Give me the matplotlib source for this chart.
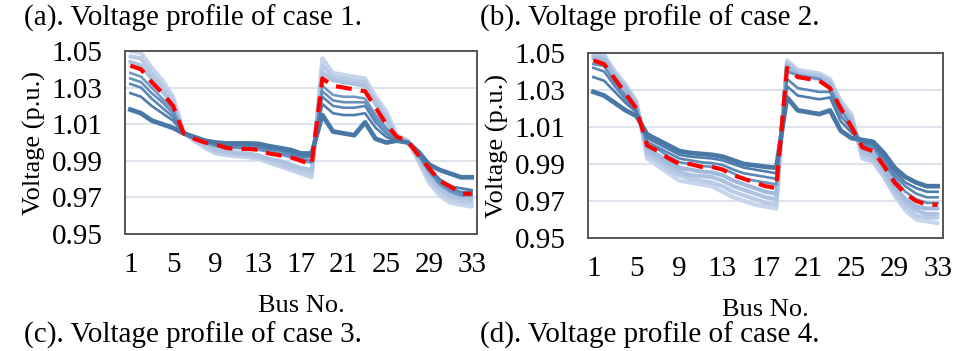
import matplotlib
matplotlib.use("Agg")
import matplotlib.pyplot as plt
import numpy as np

plt.rcParams['font.family'] = ['Liberation Serif', 'DejaVu Serif']

bus = list(range(1, 34))
xticks = [1, 5, 9, 13, 17, 21, 25, 29, 33]
yticks = [0.95, 0.97, 0.99, 1.01, 1.03, 1.05]

# case 1: darker -> lighter series, plus red dashed reference
a_d1 = [1.018, 1.016, 1.012, 1.010, 1.008, 1.005, 1.003, 1.001, 1.000, 0.9995, 0.9995, 0.9995, 0.9993, 0.998, 0.997, 0.996, 0.994, 0.994,
        1.015, 1.006, 1.005, 1.004, 1.011, 1.002, 1.000, 1.001, 1.000, 0.995, 0.988, 0.985, 0.983, 0.981, 0.981]
a_d2 = [1.027, 1.025, 1.020, 1.016, 1.012, 1.005, 1.003, 1.001, 0.9995, 0.999, 0.999, 0.999, 0.9985, 0.9975, 0.9965, 0.995, 0.993, 0.993,
        1.021, 1.016, 1.015, 1.015, 1.016, 1.008, 1.003, 1.001, 1.000, 0.994, 0.986, 0.980, 0.976, 0.975, 0.974]
a_d3 = [1.032, 1.030, 1.024, 1.019, 1.014, 1.005, 1.003, 1.001, 0.999, 0.998, 0.998, 0.998, 0.9975, 0.9965, 0.9955, 0.994, 0.992, 0.992,
        1.025, 1.020, 1.019, 1.019, 1.020, 1.011, 1.005, 1.001, 1.000, 0.994, 0.985, 0.979, 0.975, 0.973, 0.973]
a_d4 = [1.035, 1.033, 1.027, 1.022, 1.016, 1.005, 1.002, 1.000, 0.9985, 0.9975, 0.9975, 0.997, 0.9965, 0.9955, 0.994, 0.993, 0.991, 0.990,
        1.028, 1.023, 1.022, 1.022, 1.022, 1.013, 1.007, 1.002, 1.000, 0.994, 0.985, 0.978, 0.974, 0.972, 0.972]
a_d5 = [1.038, 1.036, 1.030, 1.024, 1.018, 1.005, 1.002, 1.000, 0.998, 0.997, 0.997, 0.9965, 0.996, 0.995, 0.9935, 0.992, 0.990, 0.989,
        1.031, 1.026, 1.025, 1.025, 1.024, 1.015, 1.008, 1.002, 1.000, 0.993, 0.984, 0.977, 0.973, 0.971, 0.971]
a_l1 = [1.044, 1.042, 1.035, 1.028, 1.021, 1.005, 1.002, 0.999, 0.996, 0.995, 0.9945, 0.994, 0.993, 0.991, 0.990, 0.988, 0.986, 0.985,
        1.038, 1.034, 1.033, 1.032, 1.031, 1.021, 1.012, 1.003, 1.001, 0.992, 0.982, 0.975, 0.971, 0.970, 0.969]
a_l2 = [1.047, 1.046, 1.038, 1.031, 1.023, 1.005, 1.001, 0.998, 0.995, 0.994, 0.9935, 0.993, 0.992, 0.990, 0.988, 0.986, 0.984, 0.983,
        1.042, 1.036, 1.035, 1.034, 1.033, 1.023, 1.014, 1.003, 1.001, 0.991, 0.980, 0.973, 0.969, 0.968, 0.967]
a_l3 = [1.050, 1.049, 1.041, 1.034, 1.025, 1.006, 1.001, 0.997, 0.994, 0.993, 0.9925, 0.992, 0.991, 0.989, 0.987, 0.985, 0.983, 0.981,
        1.046, 1.038, 1.037, 1.036, 1.035, 1.025, 1.017, 1.004, 1.001, 0.990, 0.978, 0.971, 0.967, 0.966, 0.965]
a_red = [1.042, 1.040, 1.033, 1.027, 1.020, 1.005, 1.002, 1.000, 0.999, 0.997, 0.9965, 0.9965, 0.996, 0.994, 0.993, 0.992, 0.990, 0.988,
         1.035, 1.031, 1.030, 1.029, 1.028, 1.019, 1.010, 1.003, 1.001, 0.993, 0.986, 0.979, 0.976, 0.972, 0.972]

# case 2
b_d1 = [1.029, 1.027, 1.023, 1.019, 1.016, 1.006, 1.003, 1.000, 0.997, 0.996, 0.9955, 0.995, 0.994, 0.992, 0.990, 0.9893, 0.9885, 0.988,
        1.026, 1.019, 1.018, 1.017, 1.019, 1.008, 1.004, 1.003, 1.002, 0.996, 0.988, 0.983, 0.980, 0.978, 0.978]
b_d2 = [1.037, 1.035, 1.029, 1.023, 1.018, 1.004, 1.001, 0.998, 0.995, 0.994, 0.9935, 0.993, 0.992, 0.990, 0.988, 0.987, 0.986, 0.985,
        1.032, 1.027, 1.026, 1.025, 1.026, 1.013, 1.007, 1.002, 1.001, 0.994, 0.986, 0.980, 0.977, 0.975, 0.975]
b_d3 = [1.042, 1.040, 1.032, 1.025, 1.019, 1.002, 0.999, 0.996, 0.993, 0.992, 0.991, 0.9905, 0.9895, 0.987, 0.985, 0.984, 0.983, 0.982,
        1.036, 1.031, 1.030, 1.029, 1.029, 1.016, 1.009, 1.001, 1.000, 0.993, 0.984, 0.978, 0.974, 0.972, 0.972]
b_d4 = [1.044, 1.043, 1.034, 1.027, 1.020, 1.000, 0.998, 0.994, 0.991, 0.990, 0.989, 0.9885, 0.9875, 0.985, 0.982, 0.981, 0.980, 0.979,
        1.040, 1.038, 1.037, 1.036, 1.031, 1.019, 1.011, 1.000, 0.999, 0.991, 0.982, 0.975, 0.971, 0.969, 0.969]
b_l1 = [1.047, 1.046, 1.037, 1.030, 1.021, 0.998, 0.995, 0.991, 0.988, 0.987, 0.986, 0.9855, 0.984, 0.981, 0.979, 0.977, 0.975, 0.974,
        1.043, 1.038, 1.037, 1.036, 1.033, 1.021, 1.013, 0.998, 0.996, 0.988, 0.978, 0.971, 0.967, 0.966, 0.966]
b_l2 = [1.048, 1.047, 1.038, 1.031, 1.022, 0.997, 0.993, 0.989, 0.986, 0.984, 0.9835, 0.983, 0.981, 0.978, 0.976, 0.974, 0.972, 0.971,
        1.044, 1.039, 1.038, 1.037, 1.034, 1.022, 1.014, 0.996, 0.994, 0.986, 0.976, 0.969, 0.965, 0.963, 0.963]
b_l3 = [1.049, 1.048, 1.039, 1.032, 1.023, 0.995, 0.991, 0.987, 0.984, 0.982, 0.981, 0.980, 0.978, 0.975, 0.973, 0.971, 0.969, 0.968,
        1.045, 1.040, 1.039, 1.038, 1.035, 1.023, 1.015, 0.994, 0.992, 0.984, 0.974, 0.967, 0.962, 0.961, 0.961]
b_l4 = [1.050, 1.049, 1.040, 1.033, 1.024, 0.993, 0.989, 0.985, 0.981, 0.980, 0.979, 0.978, 0.975, 0.972, 0.970, 0.968, 0.967, 0.966,
        1.046, 1.041, 1.040, 1.039, 1.036, 1.024, 1.017, 0.993, 0.991, 0.983, 0.973, 0.965, 0.960, 0.959, 0.958]
b_red = [1.046, 1.044, 1.036, 1.028, 1.020, 1.000, 0.997, 0.993, 0.990, 0.990, 0.9885, 0.9885, 0.987, 0.984, 0.982, 0.980, 0.978, 0.977,
         1.042, 1.037, 1.036, 1.035, 1.031, 1.020, 1.010, 0.999, 0.997, 0.989, 0.980, 0.974, 0.970, 0.968, 0.968]

LIGHT = ['#c6d5eb', '#b9cbe5', '#adc3e0', '#a2bbdc']
DARK = ['#4a78a6', '#4f7eae', '#5a87b6', '#6690bd', '#7099c4']


def draw(ax, darks, lights, red):
    for i, s in enumerate(lights[::-1]):
        ax.plot(bus, s, color=LIGHT[i], lw=3.0, solid_capstyle='round', zorder=2)
    for i, s in enumerate(darks[::-1]):
        c = DARK[len(darks) - 1 - i]
        ax.plot(bus, s, color=c, lw=3.4 if i == len(darks) - 1 else 1.9, zorder=3)
    ax.plot(bus, red, color='#ff0000', lw=3.0, ls=(0, (3.8, 2.2)), zorder=4)
    ax.set_xlim(0.5, 33.5)
    ax.set_ylim(0.95, 1.05)
    ax.set_xticks(xticks)
    ax.set_yticks(yticks)
    ax.set_yticklabels(['%.2f' % v for v in yticks])
    ax.grid(axis='y', color='#dde3ea', lw=1.4)
    ax.set_axisbelow(True)
    ax.tick_params(length=0, labelsize=21)
    ax.tick_params(axis='x', pad=13)
    ax.tick_params(axis='y', pad=16)
    for sp in ax.spines.values():
        sp.set_color('#555555')
        sp.set_linewidth(1.4)
    ax.set_xlabel('Bus No.', fontsize=19, labelpad=12)
    ax.set_ylabel('Voltage (p.u.)', fontsize=19, labelpad=4)


fig = plt.figure(figsize=(9.66, 3.51), dpi=100)
ax1 = fig.add_axes([0.1294, 0.3333, 0.3644, 0.5214])
ax2 = fig.add_axes([0.6087, 0.3219, 0.3675, 0.527])
draw(ax1, [a_d1, a_d2, a_d3, a_d4, a_d5], [a_l1, a_l2, a_l3], a_red)
draw(ax2, [b_d1, b_d2, b_d3, b_d4], [b_l1, b_l2, b_l3, b_l4], b_red)

fig.text(0.025, 0.948, '(a). Voltage profile of case 1.', fontsize=21, va='center')
fig.text(0.497, 0.948, '(b). Voltage profile of case 2.', fontsize=21, va='center')
fig.text(0.025, 0.045, '(c). Voltage profile of case 3.', fontsize=21, va='center')
fig.text(0.497, 0.045, '(d). Voltage profile of case 4.', fontsize=21, va='center')

fig.savefig('out.png', dpi=100)
